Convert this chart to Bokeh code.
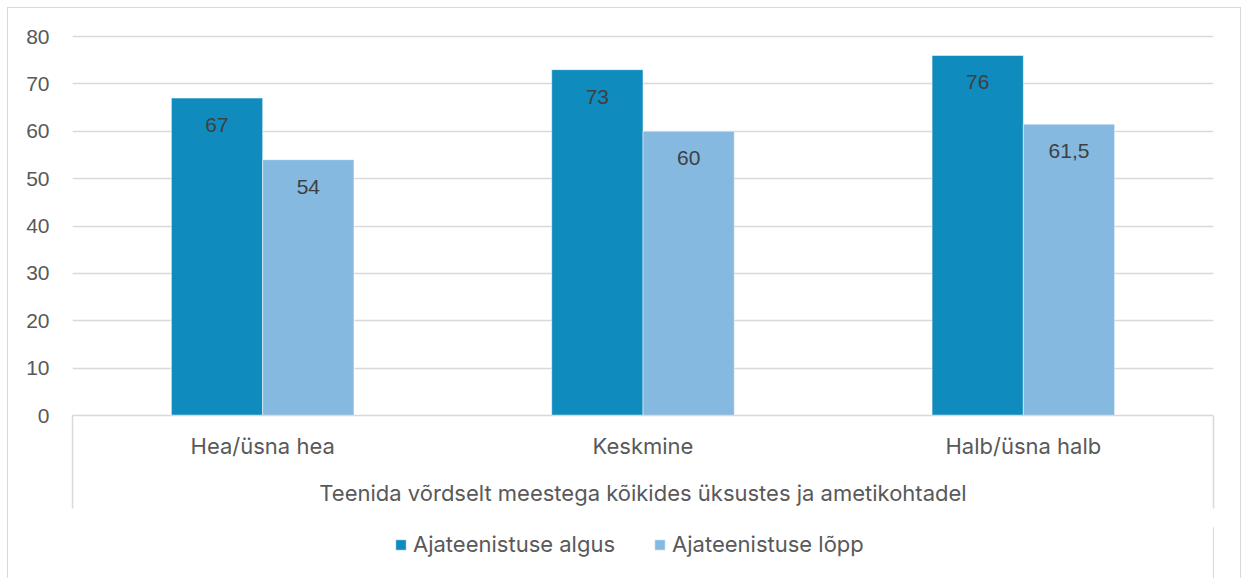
from bokeh.plotting import figure
from bokeh.layouts import column
from bokeh.models import (Range1d, FixedTicker, Legend, LegendItem, ColumnDataSource)
from bokeh.transform import dodge
from bokeh.core.properties import value
from bokeh.embed import file_html
from bokeh.resources import INLINE

# ---- data ----
categories = ["Hea/üsna hea", "Keskmine", "Halb/üsna halb"]
series_names = ["Ajateenistuse algus", "Ajateenistuse lõpp"]
algus = [67, 73, 76]
lopp = [54, 60, 61.5]
group_label = "Teenida võrdselt meestega kõikides üksustes ja ametikohtadel"
y_ticks = [0, 10, 20, 30, 40, 50, 60, 70, 80]

# ---- styles ----
DARK = "#0F8BBE"
LIGHT = "#85B9E0"
GRID = "#D9D9D9"
AXIS_TXT = "#595959"
LBL_TXT = "#404040"
TXT_FONT = "Inter"
NUM_FONT = "Liberation Sans"
FS_TXT = "22px"
FS_NUM = "21px"
SEP_LEN = 93
BORDER = "1px solid #D9D9D9"


def fmt(v):
    return f"{v:g}".replace(".", ",")


n = len(categories)
pos = list(range(n))
src = ColumnDataSource(dict(
    x=pos,
    algus=algus,
    lopp=lopp,
    algus_lbl=[fmt(v) for v in algus],
    lopp_lbl=[fmt(v) for v in lopp],
))

px_per_unit = (415 - 36) / 80.0
y_end = 80 + 3 / px_per_unit

# ---------------- main chart ----------------
p = figure(
    x_range=Range1d(-0.5, n - 0.5),
    y_range=Range1d(0, y_end),
    width=1234, height=520,
    output_backend="svg", toolbar_location=None,
    min_border_left=64, min_border_right=29,
    min_border_top=25, min_border_bottom=113,
)
p.outline_line_color = None
p.background_fill_color = "white"
p.border_fill_color = "white"
p.styles = {
    "margin": "7px 0 0 7px",
    "border-left": BORDER,
    "border-top": BORDER,
    "border-right": BORDER,
}

bar_style = dict(width=0.24, line_color="white", line_alpha=0.5, line_width=1)
r1 = p.vbar(x=dodge("x", -0.12), top="algus", source=src, fill_color=DARK, **bar_style)
r2 = p.vbar(x=dodge("x", 0.12), top="lopp", source=src, fill_color=LIGHT, **bar_style)

# data labels
for col, off in (("algus", -0.12), ("lopp", 0.12)):
    p.text(x=dodge("x", off), y=col, text=col + "_lbl", source=src,
           text_align="center", text_baseline="middle", y_offset=27,
           text_font=value(NUM_FONT), text_font_size=FS_NUM, text_color=LBL_TXT)

# grid
p.xgrid.visible = False
p.ygrid.ticker = FixedTicker(ticks=y_ticks)
p.ygrid.grid_line_color = GRID
p.ygrid.grid_line_width = 1.3

# y axis
p.yaxis.ticker = FixedTicker(ticks=y_ticks)
p.yaxis.axis_line_color = None
p.yaxis.major_tick_line_color = None
p.yaxis.minor_tick_line_color = None
p.yaxis.major_tick_out = 0
p.yaxis.major_label_standoff = 23
p.yaxis.major_label_text_font = NUM_FONT
p.yaxis.major_label_text_font_size = FS_NUM
p.yaxis.major_label_text_color = AXIS_TXT

# x axis: category labels at major ticks, outer separators as minor ticks
p.xaxis.ticker = FixedTicker(ticks=pos, minor_ticks=[-0.5, n - 0.5])
p.xaxis.major_label_overrides = {i: c for i, c in zip(pos, categories)}
p.xaxis.axis_line_color = GRID
p.xaxis.axis_line_width = 1.5
p.xaxis.major_tick_line_color = None
p.xaxis.major_tick_out = 0
p.xaxis.major_tick_in = 0
p.xaxis.minor_tick_line_color = GRID
p.xaxis.minor_tick_line_width = 1.5
p.xaxis.minor_tick_in = 0
p.xaxis.minor_tick_out = SEP_LEN
p.xaxis.major_label_standoff = 17 - SEP_LEN
p.xaxis.major_label_text_font = TXT_FONT
p.xaxis.major_label_text_font_size = FS_TXT
p.xaxis.major_label_text_color = AXIS_TXT
p.xaxis.axis_label = group_label
p.xaxis.axis_label_standoff = 18
p.xaxis.axis_label_text_font = TXT_FONT
p.xaxis.axis_label_text_font_size = FS_TXT
p.xaxis.axis_label_text_font_style = "normal"
p.xaxis.axis_label_text_color = AXIS_TXT

# ---------------- legend strip ----------------
# same series drawn out of view; only their legend swatches are visible
lg = figure(
    x_range=Range1d(-100, -99), y_range=Range1d(0, 1),
    width=1234, height=51,
    output_backend="svg", toolbar_location=None,
    x_axis_type=None, y_axis_type=None,
    min_border_left=0, min_border_right=0, min_border_top=0, min_border_bottom=0,
)
lg.outline_line_color = None
lg.grid.visible = False
lg.border_fill_color = "white"
lg.background_fill_color = "white"
lg.styles = {
    "margin": "0 0 0 7px",
    "border-left": BORDER,
    "border-right": BORDER,
}
k1 = lg.vbar(x=dodge("x", -0.12), top="algus", source=src, fill_color=DARK, **bar_style)
k2 = lg.vbar(x=dodge("x", 0.12), top="lopp", source=src, fill_color=LIGHT, **bar_style)

legend = Legend(
    items=[LegendItem(label=series_names[0], renderers=[k1]),
           LegendItem(label=series_names[1], renderers=[k2])],
    orientation="horizontal", location=(322, 21),
    border_line_color=None, background_fill_alpha=0,
    glyph_width=13, glyph_height=13, label_standoff=6, spacing=38,
    padding=0, margin=0,
    label_text_font=TXT_FONT, label_text_font_size=FS_TXT, label_text_color=AXIS_TXT,
)
lg.add_layout(legend)

layout = column(p, lg, spacing=0)
open("out.html", "w").write(file_html(layout, INLINE))
